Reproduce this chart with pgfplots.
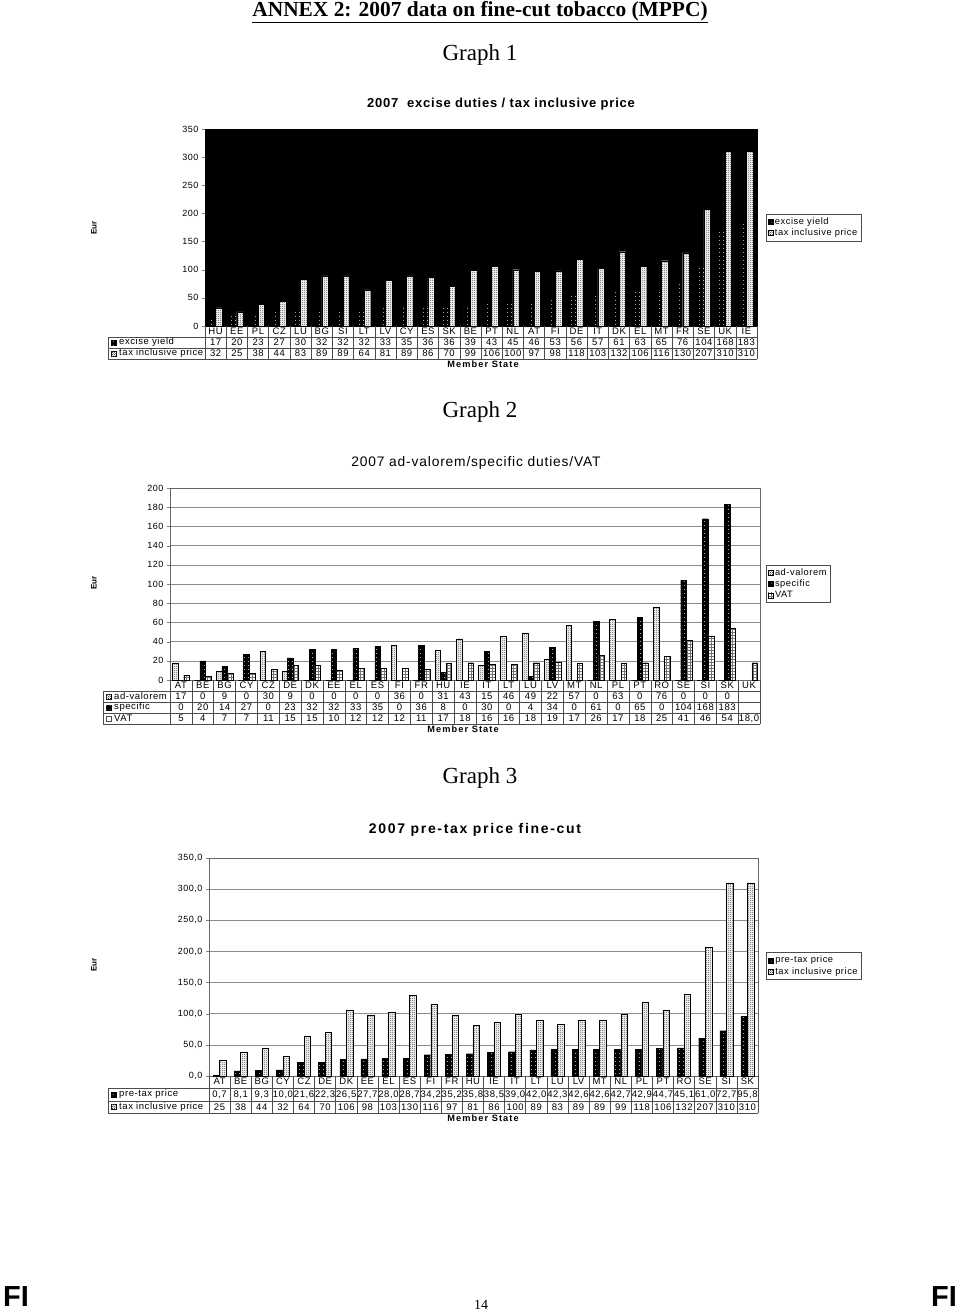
\documentclass[border=0pt]{standalone}
\usepackage{fontspec}
\setmainfont{Liberation Serif}
\setsansfont{Liberation Sans}
\newfontfamily\cf[LetterSpace=6]{Liberation Sans}
\newfontfamily\cfw[LetterSpace=12]{Liberation Sans}
\usepackage{pgfplots}
\usepackage{pgfplotstable}
\pgfplotsset{compat=1.18}
\usetikzlibrary{patterns}

\pgfdeclarepatternformonly{sparsedots}{\pgfpointorigin}{\pgfpoint{3.5pt}{3.5pt}}{\pgfpoint{3.5pt}{3.5pt}}{\pgfpathcircle{\pgfpoint{1.7pt}{1.7pt}}{0.4pt}\pgfusepath{fill}}
\pgfdeclarepatternformonly{checker}{\pgfpointorigin}{\pgfpoint{2pt}{2pt}}{\pgfpoint{2pt}{2pt}}{\pgfpathrectangle{\pgfpointorigin}{\pgfpoint{1pt}{1pt}}\pgfpathrectangle{\pgfpoint{1pt}{1pt}}{\pgfpoint{1pt}{1pt}}\pgfusepath{fill}}

\tikzset{
 chk/.style={fill=white, postaction={pattern=checker, pattern color=black!70}, draw=black, line width=0.4pt},
 blk/.style={fill=black, postaction={pattern=sparsedots, pattern color=white}, draw=black, line width=0.4pt},
 vat/.style={fill=white, postaction={pattern=grid, pattern color=black!55}, draw=black, line width=0.4pt},
 tab/.style={font=\cf\fontsize{9.5}{10}\selectfont, inner sep=0pt, anchor=center},
 tabl/.style={font=\cf\fontsize{9.5}{10}\selectfont, inner sep=0pt, anchor=west},
 ms/.style={font=\cfw\bfseries\fontsize{9.2}{10}\selectfont, inner sep=0pt},
 eur/.style={font=\sffamily\bfseries\fontsize{8}{9}\selectfont, rotate=90, inner sep=0pt},
 tline/.style={black!70, line width=0.5pt},
}

\pgfplotsset{
 chartaxis/.style={
  scale only axis, anchor=south west,
  xtick=\empty, ytick pos=left, tick align=outside, major tick length=3pt,
  tick label style={font=\cf\fontsize{9}{10}\selectfont},
  /pgf/number format/assume math mode=true,
  ybar=0pt, ymin=0,
  legend cell align=left,
  legend style={anchor=west, draw=black!70, font=\cf\fontsize{9.3}{10}\selectfont,
    inner sep=1.5pt, row sep=-1pt, /tikz/every even column/.append style={column sep=1pt}},
  legend image code/.code={\draw[#1] (0pt,-2.5pt) rectangle (5pt,2.5pt);},
 }
}

% Graph 1 data
\pgfplotstableread{
i ex tax
0 17 32
1 20 25
2 23 38
3 27 44
4 30 83
5 32 89
6 32 89
7 32 64
8 33 81
9 35 89
10 36 86
11 36 70
12 39 99
13 43 106
14 45 100
15 46 97
16 53 98
17 56 118
18 57 103
19 61 132
20 63 106
21 65 116
22 76 130
23 104 207
24 168 310
25 183 310
}\GAdata

% Graph 2 data
\pgfplotstableread{
i av sp vat
0 17 0 5
1 0 20 4
2 9 14 7
3 0 27 7
4 30 0 11
5 9 23 15
6 0 32 15
7 0 32 10
8 0 33 12
9 0 35 12
10 36 0 12
11 0 36 11
12 31 8 17
13 43 0 18
14 15 30 16
15 46 0 16
16 49 4 18
17 22 34 19
18 57 0 17
19 0 61 26
20 63 0 17
21 0 65 18
22 76 0 25
23 0 104 41
24 0 168 46
25 0 183 54
26 nan nan 18
}\GBdata

% Graph 3 data
\pgfplotstableread{
i pre tax
0 0.7 25
1 8.1 38
2 9.3 44
3 10.0 32
4 21.6 64
5 22.3 70
6 26.5 106
7 27.7 98
8 28.0 103
9 28.7 130
10 34.2 116
11 35.2 97
12 35.8 81
13 38.5 86
14 39.0 100
15 42.0 89
16 42.3 83
17 42.6 89
18 42.6 89
19 42.7 99
20 42.9 118
21 44.7 106
22 45.1 132
23 61.0 207
24 72.7 310
25 95.8 310
}\GCdata

\begin{document}
\begin{tikzpicture}
\useasboundingbox (0pt,0pt) rectangle (960pt,-1313pt);

% ---------------- Graph 1 ----------------
\begin{axis}[chartaxis, at={(205pt,-326pt)}, width=552pt, height=197pt,
  xmin=-0.5, xmax=25.5, ymax=350, ytick={0,50,...,350},
  axis background/.style={fill=black}, bar width=6.5pt,
  legend style={at={(1.016,0.5)}}]
\addplot[blk] table[x=i,y=ex]{\GAdata};
\addplot[chk] table[x=i,y=tax]{\GAdata};
\legend{excise yield, tax inclusive price}
\end{axis}

% ---------------- Graph 2 ----------------
\begin{axis}[chartaxis, at={(170pt,-680pt)}, width=590pt, height=192pt,
  xmin=-0.5, xmax=26.5, ymax=200, ytick={0,20,...,200},
  ymajorgrids, grid style={black!45, line width=0.5pt},
  axis line style={black!60}, bar width=5.6pt,
  legend style={at={(1.01,0.5)}}]
\addplot[chk] table[x=i,y=av]{\GBdata};
\addplot[blk] table[x=i,y=sp]{\GBdata};
\addplot[vat] table[x=i,y=vat]{\GBdata};
\legend{ad-valorem, specific, VAT}
\end{axis}

% ---------------- Graph 3 ----------------
\begin{axis}[chartaxis, at={(209pt,-1076pt)}, width=549pt, height=218pt,
  xmin=-0.5, xmax=25.5, ymax=350, ytick={0,50,...,350},
  yticklabel style={/pgf/number format/.cd, fixed, fixed zerofill, precision=1, use comma},
  ymajorgrids, grid style={black!45, line width=0.5pt},
  axis line style={black!60}, bar width=6.5pt,
  legend style={at={(1.015,0.505)}}]
\addplot[blk] table[x=i,y=pre]{\GCdata};
\addplot[chk] table[x=i,y=tax]{\GCdata};
\legend{pre-tax price, tax inclusive price}
\end{axis}

\begin{scope}[x=1pt,y=1pt]
% page titles
\node[font=\bfseries\fontsize{21.4}{23}\selectfont, anchor=north, inner sep=0pt] at (480,-1) {\underline{ANNEX 2: 2007 data on fine-cut tobacco (MPPC)}};
\node[font=\fontsize{23}{25}\selectfont, inner sep=0pt] at (480,-55) {Graph 1};
\node[font=\fontsize{23}{25}\selectfont, inner sep=0pt] at (480,-412) {Graph 2};
\node[font=\fontsize{23}{25}\selectfont, inner sep=0pt] at (480,-778) {Graph 3};
\node[font=\cf\bfseries\fontsize{13}{15}\selectfont, inner sep=0pt] at (501,-104) {2007\ \ excise duties / tax inclusive price};
\node[font=\cf\fontsize{13.8}{15}\selectfont, inner sep=0pt] at (476,-463) {2007 ad-valorem/specific duties/VAT};
\node[font=\cfw\bfseries\fontsize{14}{16}\selectfont, inner sep=0pt] at (475,-830) {2007 pre-tax price fine-cut};
\node[eur] at (94,-228) {Eur};
\node[eur] at (94,-583) {Eur};
\node[eur] at (94,-965) {Eur};
% footer
\node[font=\sffamily\bfseries\fontsize{29}{31}\selectfont, anchor=south west, inner sep=0pt] at (3,-1307) {FI};
\node[font=\sffamily\bfseries\fontsize{29}{31}\selectfont, anchor=south east, inner sep=0pt] at (957,-1307) {FI};
\node[font=\fontsize{14}{16}\selectfont, anchor=base, inner sep=0pt] at (481,-1309) {14};

% ---- table 1 ----
\def\w{21.2308}
\foreach \k in {0,...,26} \draw[tline] (205+\k*\w,-326) -- (205+\k*\w,-359);
\foreach \yy in {-337,-348,-359} \draw[tline] (108,\yy) -- (757,\yy);
\draw[tline] (108,-337) -- (108,-359);
\foreach \c [count=\n from 0] in {HU,EE,PL,CZ,LU,BG,SI,LT,LV,CY,ES,SK,BE,PT,NL,AT,FI,DE,IT,DK,EL,MT,FR,SE,UK,IE}
  \node[tab] at (205+\n*\w+0.5*\w,-331.5) {\c};
\foreach \v [count=\n from 0] in {17,20,23,27,30,32,32,32,33,35,36,36,39,43,45,46,53,56,57,61,63,65,76,104,168,183}
  \node[tab] at (205+\n*\w+0.5*\w,-342.5) {\v};
\foreach \v [count=\n from 0] in {32,25,38,44,83,89,89,64,81,89,86,70,99,106,100,97,98,118,103,132,106,116,130,207,310,310}
  \node[tab] at (205+\n*\w+0.5*\w,-353.5) {\v};
\path[blk] (111,-345) rectangle (116,-340);
\path[chk] (111,-356) rectangle (116,-351);
\node[tabl] at (119,-342.5) {excise yield};
\node[tabl] at (119,-353.5) {tax inclusive price};
\node[ms] at (483,-364.5) {Member State};

% ---- table 2 ----
\def\w{21.8519}
\foreach \k in {0,...,27} \draw[tline] (170+\k*\w,-680) -- (170+\k*\w,-724);
\foreach \yy in {-691,-702,-713,-724} \draw[tline] (103,\yy) -- (760,\yy);
\draw[tline] (103,-691) -- (103,-724);
\foreach \c [count=\n from 0] in {AT,BE,BG,CY,CZ,DE,DK,EE,EL,ES,FI,FR,HU,IE,IT,LT,LU,LV,MT,NL,PL,PT,RO,SE,SI,SK,UK}
  \node[tab] at (170+\n*\w+0.5*\w,-685.5) {\c};
\foreach \v [count=\n from 0] in {17,0,9,0,30,9,0,0,0,0,36,0,31,43,15,46,49,22,57,0,63,0,76,0,0,0,{}}
  \node[tab] at (170+\n*\w+0.5*\w,-696.5) {\v};
\foreach \v [count=\n from 0] in {0,20,14,27,0,23,32,32,33,35,0,36,8,0,30,0,4,34,0,61,0,65,0,104,168,183,{}}
  \node[tab] at (170+\n*\w+0.5*\w,-707.5) {\v};
\foreach \v [count=\n from 0] in {5,4,7,7,11,15,15,10,12,12,12,11,17,18,16,16,18,19,17,26,17,18,25,41,46,54,{18,0}}
  \node[tab] at (170+\n*\w+0.5*\w,-718.5) {\v};
\path[chk] (106,-699) rectangle (111,-694);
\path[blk] (106,-710) rectangle (111,-705);
\path[draw=black!70, fill=white] (106,-721) rectangle (111,-716);
\node[tabl] at (114,-696.5) {ad-valorem};
\node[tabl] at (114,-707.5) {specific};
\node[tabl] at (114,-718.5) {VAT};
\node[ms] at (463,-729.5) {Member State};

% ---- table 3 ----
\def\w{21.1154}
\foreach \k in {0,...,26} \draw[tline] (209+\k*\w,-1076) -- (209+\k*\w,-1113);
\foreach \yy in {-1088,-1101,-1113} \draw[tline] (108,\yy) -- (758,\yy);
\draw[tline] (108,-1088) -- (108,-1113);
\foreach \c [count=\n from 0] in {AT,BE,BG,CY,CZ,DE,DK,EE,EL,ES,FI,FR,HU,IE,IT,LT,LU,LV,MT,NL,PL,PT,RO,SE,SI,SK}
  \node[tab] at (209+\n*\w+0.5*\w,-1081.5) {\c};
\foreach \v [count=\n from 0] in {{0,7},{8,1},{9,3},{10,0},{21,6},{22,3},{26,5},{27,7},{28,0},{28,7},{34,2},{35,2},{35,8},{38,5},{39,0},{42,0},{42,3},{42,6},{42,6},{42,7},{42,9},{44,7},{45,1},{61,0},{72,7},{95,8}}
  \node[tab] at (209+\n*\w+0.5*\w,-1094.5) {\v};
\foreach \v [count=\n from 0] in {25,38,44,32,64,70,106,98,103,130,116,97,81,86,100,89,83,89,89,99,118,106,132,207,310,310}
  \node[tab] at (209+\n*\w+0.5*\w,-1107) {\v};
\path[blk] (111,-1097) rectangle (116,-1092);
\path[chk] (111,-1109.5) rectangle (116,-1104.5);
\node[tabl] at (119,-1094.5) {pre-tax price};
\node[tabl] at (119,-1107) {tax inclusive price};
\node[ms] at (483,-1118.5) {Member State};
\end{scope}
\end{tikzpicture}
\end{document}
